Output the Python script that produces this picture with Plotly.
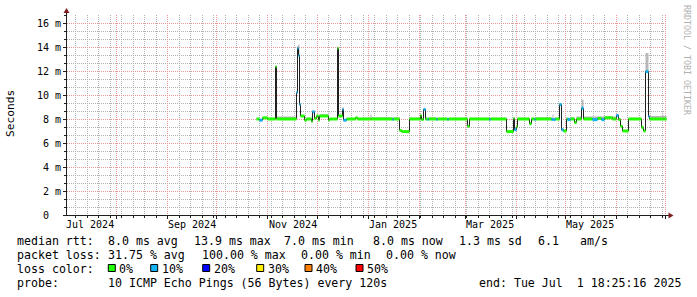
import pandas as pd
import plotly.graph_objects as go

# ---------------- data ----------------
x_start = "2024-07-01 18:25:16"
x_end = "2025-07-01 18:25:16"

seg_start = [
    "2024-10-24 18:00", "2024-10-26 21:00", "2024-10-28 19:40", "2024-11-01 01:00",
    "2024-11-05 21:36", "2024-11-06 12:00", "2024-11-18 12:00", "2024-11-19 02:40",
    "2024-11-19 17:15", "2024-11-20 08:00", "2024-11-20 22:20", "2024-11-23 13:10",
    "2024-11-24 14:00", "2024-11-27 04:50", "2024-11-28 05:30", "2024-11-29 05:00",
    "2024-11-30 16:00", "2024-12-01 15:20", "2024-12-02 16:00", "2024-12-07 17:20",
    "2024-12-08 18:00", "2024-12-13 04:50", "2024-12-13 19:30", "2024-12-16 01:30",
    "2024-12-16 20:25", "2024-12-18 22:00", "2024-12-24 13:40", "2024-12-25 11:30",
    "2025-01-02 09:40", "2025-01-03 00:00", "2025-01-15 18:40", "2025-01-16 16:30",
    "2025-01-19 21:50", "2025-01-21 08:50", "2025-01-26 10:00", "2025-02-01 22:20",
    "2025-02-02 17:20", "2025-02-03 12:15", "2025-02-04 17:30", "2025-02-06 01:40",
    "2025-02-06 23:30", "2025-02-11 13:00", "2025-02-12 10:50", "2025-02-18 05:30",
    "2025-02-19 03:20", "2025-03-02 16:50", "2025-03-03 22:00", "2025-03-15 18:40",
    "2025-03-16 16:30", "2025-03-26 05:45", "2025-03-30 06:00", "2025-03-30 20:40",
    "2025-04-01 02:00", "2025-04-01 22:20", "2025-04-09 09:50", "2025-04-10 10:45",
    "2025-04-12 03:40", "2025-04-13 01:40", "2025-04-22 19:10", "2025-04-23 09:50",
    "2025-04-24 00:30", "2025-04-24 22:20", "2025-04-27 16:00", "2025-04-28 16:50",
    "2025-04-29 16:20", "2025-05-01 18:00", "2025-05-02 13:00", "2025-05-03 18:15",
    "2025-05-06 19:10", "2025-05-07 20:00", "2025-05-10 21:00", "2025-05-11 20:25",
    "2025-05-17 18:00", "2025-05-20 19:00", "2025-05-23 01:00", "2025-05-24 21:00",
    "2025-05-29 22:00", "2025-06-01 04:00", "2025-06-02 03:20", "2025-06-03 11:30",
    "2025-06-04 19:40", "2025-06-08 05:20", "2025-06-16 09:00", "2025-06-17 08:20",
    "2025-06-18 23:45", "2025-06-20 09:20", "2025-06-21 10:00", "2025-06-29 00:40",
    "2025-06-29 14:30",
]
data_end = "2025-07-01 04:00"

# median rtt per segment (ms)
seg_median = [
    8.0, 7.9, 8.1, 8.0, 12.36, 8.0, 10.2, 13.9, 13.3, 9.2, 8.25, 7.9,
    8.0, 7.8, 8.6, 8.05, 8.25, 7.9, 8.25, 7.9, 8.0, 13.9, 8.25, 8.8,
    7.9, 8.0, 8.1, 8.0, 8.0, 8.0, 7.95, 8.0, 7.05, 6.95, 8.0, 8.3,
    7.95, 8.8, 8.0, 7.95, 8.0, 7.95, 8.0, 7.95, 8.0, 7.4, 8.0, 7.95,
    8.0, 6.95, 8.05, 7.1, 7.35, 8.0, 7.6, 8.0, 7.95, 8.0, 7.95, 7.95,
    7.95, 8.0, 9.2, 7.1, 7.0, 8.0, 7.95, 8.0, 7.7, 8.0, 8.9, 8.0,
    7.95, 8.05, 7.95, 8.1, 8.0, 8.3, 7.95, 7.4, 7.0, 8.0, 7.3, 7.0,
    11.95, 8.2, 8.0, 8.0, 8.0,
]
# upper edge of the smoke per segment (ms)
seg_smoke_top = [
    8.0, 8.0, 8.15, 8.1, 12.4, 8.2, 10.3, 14.1, 14.2, 9.3, 8.3, 8.0,
    8.1, 7.9, 8.7, 8.1, 8.3, 8.0, 8.4, 8.0, 8.05, 13.95, 8.3, 9.0,
    8.0, 8.05, 8.15, 8.1, 8.4, 8.15, 8.1, 8.15, 7.1, 7.0, 8.1, 8.35,
    8.0, 8.85, 8.1, 8.1, 8.15, 8.1, 8.1, 8.1, 8.1, 7.5, 8.1, 8.1,
    8.1, 7.0, 8.1, 7.2, 7.4, 8.1, 7.7, 8.1, 8.1, 8.15, 8.1, 8.4,
    8.1, 8.1, 9.3, 7.2, 7.05, 8.1, 8.1, 8.15, 7.8, 8.2, 9.6, 8.2,
    8.2, 8.2, 8.2, 8.25, 8.2, 8.4, 8.05, 7.5, 7.05, 8.1, 7.35, 7.05,
    13.5, 8.3, 8.25, 8.35, 8.25,
]
# packet loss bucket per segment (%)
seg_loss = [
    0, 10, 0, 0, 0, 0, 10, 10, 10, 10, 0, 0,
    0, 0, 10, 0, 0, 0, 0, 0, 0, 0, 0, 10,
    10, 0, 0, 0, 0, 0, 10, 0, 0, 0, 0, 0,
    0, 10, 0, 10, 0, 10, 0, 10, 0, 0, 0, 10,
    0, 0, 0, 10, 0, 0, 0, 0, 10, 0, 10, 10,
    10, 0, 10, 10, 0, 0, 10, 0, 0, 0, 10, 0,
    10, 0, 10, 0, 0, 10, 0, 0, 0, 0, 0, 0,
    10, 10, 0, 0, 0,
]

loss_levels = [0, 10, 20, 30, 40, 50]
loss_colors = ["#22ff00", "#10b4f4", "#0000ff", "#ffee00", "#ff7f00", "#ff0000"]

y_tick_vals = [0, 2, 4, 6, 8, 10, 12, 14, 16]
y_tick_text = ["0\u00a0\u00a0", "2 m", "4 m", "6 m", "8 m", "10 m", "12 m", "14 m", "16 m"]

x_label_dates = ["2024-07-16", "2024-09-16", "2024-11-16", "2025-01-16", "2025-03-16", "2025-05-16"]
x_label_text = ["Jul 2024", "Sep 2024", "Nov 2024", "Jan 2025", "Mar 2025", "May 2025"]

legend_rows = [
    [("median rtt:", 16), ("8.0 ms avg", 107.3), ("13.9 ms max", 193.3), ("7.0 ms min", 283.3),
     ("8.0 ms now", 372.3), ("1.3 ms sd", 458.3), ("6.1", 536.7), ("am/s", 579.3)],
    [("packet loss:", 16), ("31.75 % avg", 107.3), ("100.00 % max", 200.7), ("0.00 % min", 300),
     ("0.00 % now", 385)],
    [("loss color:", 16)],
    [("probe:", 16), ("10 ICMP Echo Pings (56 Bytes) every 120s", 107.3),
     ("end: Tue Jul  1 18:25:16 2025", 478.3)],
]
loss_legend_x = [108.3, 150.7, 202.7, 256.7, 305, 356]

# ---------------- geometry ----------------
W, H = 697, 297
ML, MR, MT, MB = 67, 30, 15, 82
PW, PH = W - ML - MR, H - MT - MB
MONO = "DejaVu Sans Mono"
MAJOR_GRID = "#eb9595"
MINOR_GRID = "#b0b0b0"
AXIS = "#1f1f1f"
ARROW = "#801f1f"


def px(xp):
    return (xp - ML) / PW


def py(yp):
    return (MT + PH - yp) / PH


# like rrdtool, consolidate the step boundaries onto the pixel columns
t0_ = pd.Timestamp(x_start)
step = (pd.Timestamp(x_end) - t0_) / PW


def snap(t):
    k = round((pd.Timestamp(t) - t0_) / step - 0.5)
    return t0_ + (k + 0.5) * step


starts = [snap(t) for t in seg_start]
ends = starts[1:] + [snap(data_end)]

fig = go.Figure()

# smoke
sx, sy = [], []
for a, b, m, s in zip(starts, ends, seg_median, seg_smoke_top):
    if s > m:
        sx += [a, b, b, a, a, None]
        sy += [m, m, s, s, m, None]
fig.add_trace(go.Scatter(x=sx, y=sy, mode="lines", fill="toself", fillcolor="#b8b8b8",
                         line=dict(width=0, color="#b8b8b8"), hoverinfo="skip", showlegend=False))

# median line
fig.add_trace(go.Scatter(x=starts + [ends[-1]], y=seg_median + [seg_median[-1]], mode="lines",
                         line=dict(color="#202020", width=1, shape="hv"), hoverinfo="skip",
                         showlegend=False))

# loss coloured bands
for lvl, col in zip(loss_levels, loss_colors):
    bx, by = [], []
    for a, b, m, l in zip(starts, ends, seg_median, seg_loss):
        if l == lvl:
            bx += [a, b, None]
            by += [m, m, None]
    if bx:
        fig.add_trace(go.Scatter(x=bx, y=by, mode="lines", line=dict(color=col, width=3),
                                 hoverinfo="skip", showlegend=False))

annotations = []
shapes = []

# x labels
for d, t in zip(x_label_dates, x_label_text):
    annotations.append(dict(x=d, xref="x", y=py(224), yref="paper", text=t, showarrow=False,
                            xanchor="center", yanchor="middle",
                            font=dict(family=MONO, size=10, color="#000000")))

# y title
annotations.append(dict(x=px(10.5), y=py(113.5), xref="paper", yref="paper", text="Seconds",
                        textangle=-90, showarrow=False, xanchor="center", yanchor="middle",
                        font=dict(family=MONO, size=11.2, color="#000000")))
# watermark
annotations.append(dict(x=px(687), y=py(60), xref="paper", yref="paper",
                        text="RRDTOOL / TOBI OETIKER", textangle=90, showarrow=False,
                        xanchor="center", yanchor="middle",
                        font=dict(family=MONO, size=8.3, color="#b0b0b0")))

row_y = [241, 255, 269, 283]
for row, yc in zip(legend_rows, row_y):
    for txt, xl in row:
        annotations.append(dict(x=px(xl - 1), y=py(yc), xref="paper", yref="paper",
                                text=txt.replace(" ", "\u00a0"), showarrow=False,
                                xanchor="left", yanchor="middle",
                                font=dict(family=MONO, size=11.6, color="#000000")))
for lvl, col, xl in zip(loss_levels, loss_colors, loss_legend_x):
    shapes.append(dict(type="rect", xref="paper", yref="paper", x0=px(xl), x1=px(xl + 7),
                       y0=py(271.5), y1=py(264.5), fillcolor=col,
                       line=dict(color="#000000", width=1)))
    annotations.append(dict(x=px(xl + 10 - 1), y=py(269), xref="paper", yref="paper",
                            text=f"{lvl}%", showarrow=False, xanchor="left", yanchor="middle",
                            font=dict(family=MONO, size=11.6, color="#000000")))

# axes lines + arrows
shapes.append(dict(type="line", xref="paper", yref="paper", x0=px(66.5), x1=px(66.5),
                   y0=py(215.5), y1=py(11), line=dict(color=AXIS, width=1)))
shapes.append(dict(type="line", xref="paper", yref="paper", x0=px(64), x1=px(670),
                   y0=py(215.5), y1=py(215.5), line=dict(color=AXIS, width=1)))
shapes.append(dict(type="path", xref="paper", yref="paper",
                   path=f"M {px(63.5)} {py(13)} L {px(69.5)} {py(13)} L {px(66.5)} {py(8)} Z",
                   fillcolor=ARROW, line=dict(width=0)))
shapes.append(dict(type="path", xref="paper", yref="paper",
                   path=f"M {px(668.5)} {py(212.5)} L {px(668.5)} {py(218.5)} L {px(673.5)} {py(215.5)} Z",
                   fillcolor=ARROW, line=dict(width=0)))

# minor y grid: every 2/3 ms, skipping the major (2 ms) lines
y_minor_vals = [k * 2 / 3 for k in range(1, 26) if k % 3 != 0]

fig.update_layout(
    width=W, height=H, margin=dict(l=ML, r=MR, t=MT, b=MB, pad=0),
    paper_bgcolor="#ffffff", plot_bgcolor="#ffffff", showlegend=False,
    annotations=annotations, shapes=shapes,
    xaxis=dict(type="date", range=[x_start, x_end], showticklabels=False,
               tick0="2024-08-01", dtick="M1", ticks="outside", ticklen=3, tickcolor=AXIS,
               showgrid=True, gridcolor=MAJOR_GRID, griddash="1px,1px", gridwidth=1,
               minor=dict(tick0="2024-07-07", dtick=7 * 86400000, showgrid=True,
                          gridcolor=MINOR_GRID, griddash="1px,1px", ticks="outside", ticklen=2,
                          tickcolor=AXIS),
               showline=False, zeroline=False, fixedrange=True),
    yaxis=dict(range=[0, 50 / 3], tickvals=y_tick_vals, ticktext=y_tick_text,
               ticks="outside", ticklen=3, tickcolor=AXIS,
               tickfont=dict(family=MONO, size=10, color="#000000"),
               showgrid=True, gridcolor=MAJOR_GRID, griddash="1px,1px", gridwidth=1,
               minor=dict(tickmode="array", tickvals=y_minor_vals, showgrid=True,
                          gridcolor=MINOR_GRID, griddash="1px,1px", ticks="outside", ticklen=2,
                          tickcolor=AXIS),
               showline=False, zeroline=False, fixedrange=True),
)

fig.write_html("out.html")
